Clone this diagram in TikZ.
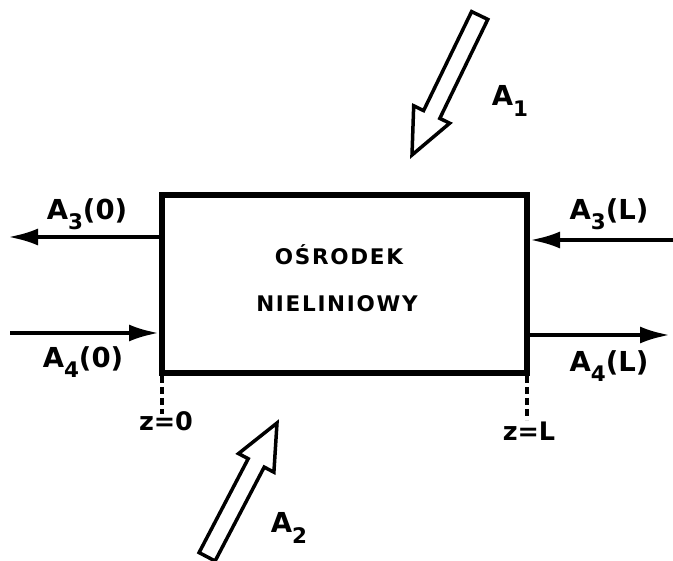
\documentclass[tikz,border=0pt]{standalone}
\usepackage{fontspec}
\usepackage{graphicx}
\setmainfont{DejaVu Sans}
\usetikzlibrary{arrows.meta}
\newcommand{\lowsub}[1]{\raisebox{-0.38em}{\scalebox{0.78}{#1}}}
\begin{document}
\begin{tikzpicture}[x=1pt,y=-1pt,
  boxstyle/.style={draw, line width=6pt, minimum width=365pt, minimum height=178pt, inner sep=0pt},
  flow/.style={line width=4pt, -{Latex[length=30pt,width=17pt]}},
  hollow/.style={draw, line width=3.5pt, line join=miter, fill=white},
  zline/.style={line width=3.5pt, dash pattern=on 7pt off 4pt},
  lab/.style={font=\bfseries\fontsize{27.5}{30}\selectfont, inner sep=0pt},
  inner/.style={font=\bfseries\fontsize{21.5}{24}\selectfont\addfontfeatures{LetterSpace=8}, inner sep=0pt},
  zlab/.style={font=\bfseries\fontsize{25.5}{28}\selectfont, inner sep=0pt}]
\useasboundingbox (0,0) rectangle (673,561);
% box
\node[boxstyle] (box) at (344.5,284) {};
\node[inner] (t1) at (339,255) {OŚRODEK};
\node[inner] (t2) at (337,304) {NIELINIOWY};
% free ends
\coordinate (l3) at (8,237);
\coordinate (l4) at (10,333);
\coordinate (r3) at (673,240);
\coordinate (r4) at (670,335);
% side arrows
\draw[flow] (box.west |- l3) -- (l3);
\draw[flow] (l4) -- (box.west |- l4);
\draw[flow] (r3) -- (box.east |- r3);
\draw[flow] (box.east |- r4) -- (r4);
% labels
\node[lab] (la3) at (87,214) {A\lowsub{3}(0)};
\node[lab] (la4) at (83,362) {A\lowsub{4}(0)};
\node[lab] (ra3) at (609,214) {A\lowsub{3}(L)};
\node[lab] (ra4) at (609,366) {A\lowsub{4}(L)};
% z markers
\coordinate (z0a) at (162,376);
\coordinate (z0b) at (162,414);
\coordinate (zLa) at (527,376);
\coordinate (zLb) at (527,420);
\draw[zline] (z0a) -- (z0b);
\draw[zline] (zLa) -- (zLb);
\node[zlab] (z0) at (166,421) {z=0};
\node[zlab] (zL) at (529,431) {z=L};
% hollow arrow A1
\draw[hollow] (412,155) -- (449.7,123.2) -- (439.8,118.4) -- (487.8,19.4) -- (471.6,11.6) -- (423.6,110.6) -- (413.7,105.8) -- cycle;
\node[lab] (a1) at (510,101) {A\lowsub{1}};
% hollow arrow A2
\draw[hollow] (277,423) -- (273.9,472.2) -- (264.2,467.1) -- (215.1,561) -- (199.1,552.6) -- (248.2,458.7) -- (238.5,453.6) -- cycle;
\node[lab] (a2) at (289,528) {A\lowsub{2}};
\end{tikzpicture}
\end{document}
